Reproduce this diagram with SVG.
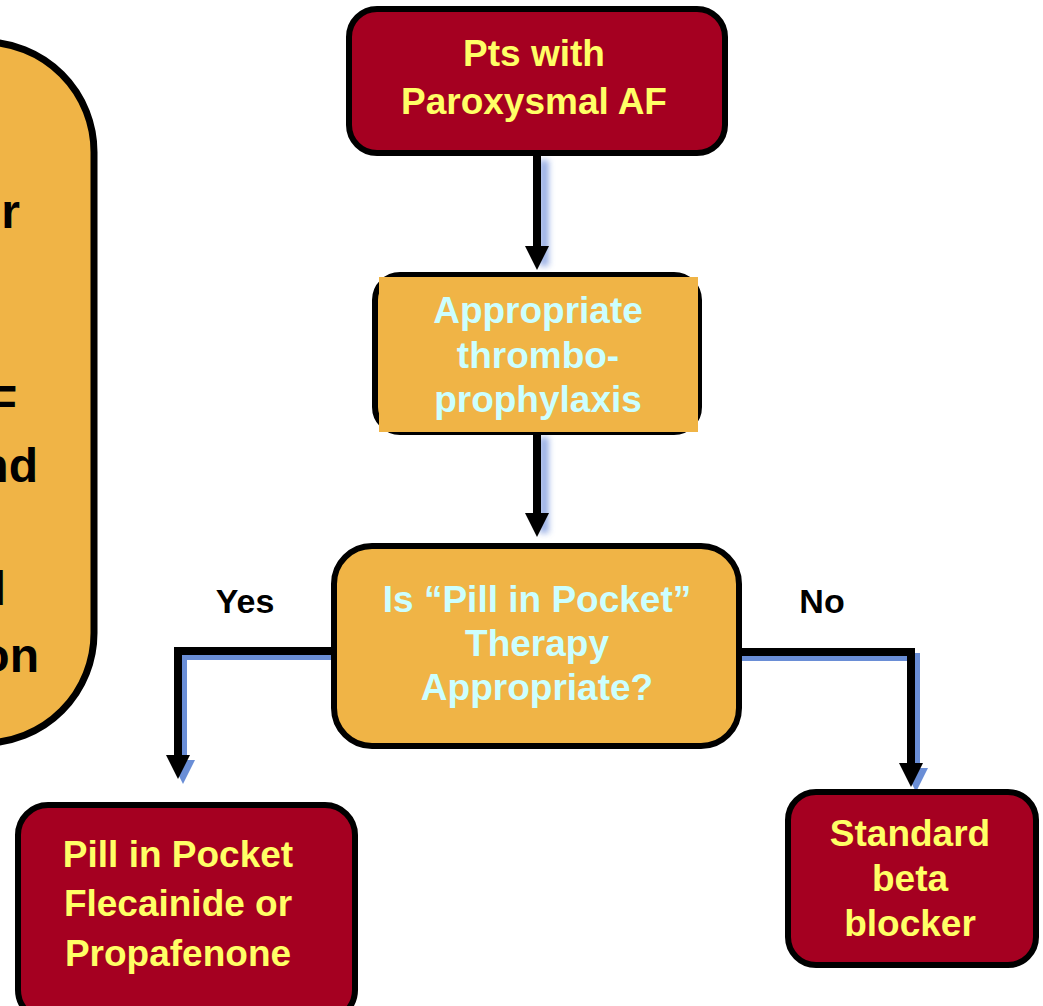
<svg xmlns="http://www.w3.org/2000/svg" width="1043" height="1006" viewBox="0 0 1043 1006">
<style>
.red{fill:#A50021;stroke:#000;stroke-width:6}
.org{fill:#F0B446;stroke:#000;stroke-width:6}
.yt{font-family:"Liberation Sans",Arial,sans-serif;font-weight:bold;font-size:37px;fill:#FFFF66;text-anchor:middle}
.ct{font-family:"Liberation Sans",Arial,sans-serif;font-weight:bold;font-size:37px;fill:#CCFFFF;text-anchor:middle}
.bt{font-family:"Liberation Sans",Arial,sans-serif;font-weight:bold;font-size:34px;fill:#000;text-anchor:middle}
.lt{font-family:"Liberation Sans",Arial,sans-serif;font-weight:bold;font-size:48px;fill:#000;text-anchor:end}
.ln{fill:none;stroke:#000;stroke-width:8}
.sh{fill:none;stroke:#6A8ED6;stroke-width:8}
.gl{fill:none;stroke:#6F8FDA;stroke-width:9;opacity:0.75}
</style>
<defs>
<marker id="ah" markerUnits="userSpaceOnUse" markerWidth="24" markerHeight="24" refX="0" refY="12" orient="auto" viewBox="0 0 24 24">
<path d="M0,0 L24,12 L0,24 z" fill="#000"/>
</marker>
<marker id="ahs" markerUnits="userSpaceOnUse" markerWidth="24" markerHeight="24" refX="0" refY="12" orient="auto" viewBox="0 0 24 24">
<path d="M0,0 L24,12 L0,24 z" fill="#6A8ED6"/>
</marker>
<filter id="blur" filterUnits="userSpaceOnUse" x="500" y="140" width="80" height="420">
<feGaussianBlur stdDeviation="3"/>
</filter>
</defs>

<g id="left-note">
<rect x="-300" y="42" width="394" height="701" rx="110" ry="110" fill="#F0B446" stroke="#000" stroke-width="7"/>
<text class="lt" x="20" y="228">r</text>
<text class="lt" x="17" y="419">F</text>
<text class="lt" x="38" y="482">nd</text>
<text class="lt" x="6" y="605">l</text>
<text class="lt" x="39" y="672">on</text>
</g>

<g id="connectors">
<path class="gl" d="M544,160 V266" filter="url(#blur)"/>
<path class="gl" d="M544,437 V533" filter="url(#blur)"/>
<path class="ln" d="M537,156 V246" marker-end="url(#ah)"/>
<path class="ln" d="M537,435 V513" marker-end="url(#ah)"/>
<path class="sh" d="M331,656 H183 V760" marker-end="url(#ahs)"/>
<path class="ln" d="M331,651 H178 V755" marker-end="url(#ah)"/>
<path class="sh" d="M742,657 H916 V768" marker-end="url(#ahs)"/>
<path class="ln" d="M742,652 H911 V763" marker-end="url(#ah)"/>
</g>

<g id="node-start">
<rect class="red" x="349" y="9" width="376" height="144" rx="28"/>
<text class="yt" x="534" y="66">Pts with</text>
<text class="yt" x="534" y="114">Paroxysmal AF</text>
</g>

<g id="node-thrombo">
<rect class="org" x="375" y="275" width="324" height="157" rx="25"/>
<rect x="379" y="277" width="319" height="155" fill="#F0B446"/>
<text class="ct" x="538" y="323">Appropriate</text>
<text class="ct" x="538" y="368">thrombo-</text>
<text class="ct" x="538" y="412">prophylaxis</text>
</g>

<g id="node-decision">
<rect class="org" x="334" y="546" width="405" height="200" rx="38"/>
<text class="ct" x="537" y="612">Is “Pill in Pocket”</text>
<text class="ct" x="537" y="656">Therapy</text>
<text class="ct" x="537" y="700">Appropriate?</text>
</g>

<g id="labels">
<text class="bt" x="245" y="613">Yes</text>
<text class="bt" x="822" y="613">No</text>
</g>

<g id="node-pill">
<rect class="red" x="18" y="805" width="337" height="215" rx="30"/>
<text class="yt" x="178" y="867">Pill in Pocket</text>
<text class="yt" x="178" y="916">Flecainide or</text>
<text class="yt" x="178" y="966">Propafenone</text>
</g>

<g id="node-beta">
<rect class="red" x="788" y="792" width="248" height="173" rx="28"/>
<text class="yt" x="910" y="846">Standard</text>
<text class="yt" x="910" y="891">beta</text>
<text class="yt" x="910" y="936">blocker</text>
</g>
</svg>
